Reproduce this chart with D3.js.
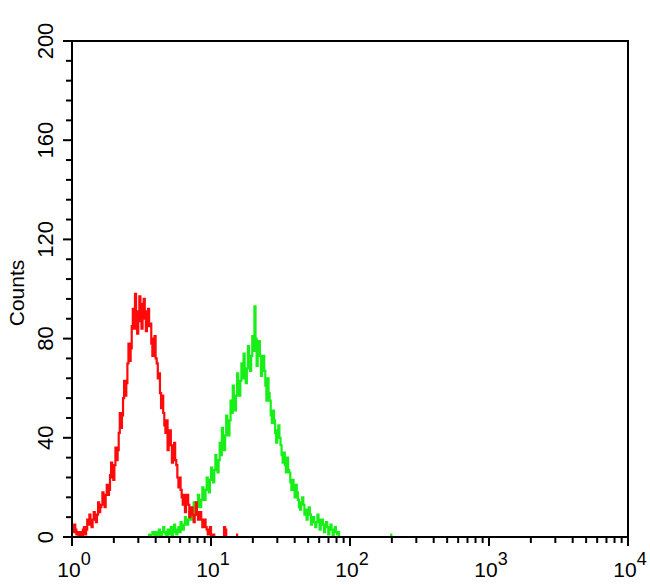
<!DOCTYPE html>
<html>
<head>
<meta charset="utf-8">
<script src="https://cdn.jsdelivr.net/npm/d3@7"></script>
<style>
  html, body { margin: 0; padding: 0; background: #fff; }
  svg { display: block; font-family: "Liberation Sans", Arial, sans-serif; }
</style>
</head>
<body>
<svg id="chart" width="650" height="585"></svg>
<script>
// ---- data (histogram counts per channel, 128 channels per decade) ----
const channelsPerDecade = 128;
const redStart = 0;
const redCounts = [4,2,5,3,1,2,0,0,2,0,3,4,1,3,7,5,9,6,4,7,10,7,6,9,14,10,12,13,18,14,12,17,21,17,19,25,30,24,23,29,36,31,35,42,50,44,49,56,63,57,62,70,78,71,76,85,92,84,98,88,82,91,97,87,84,94,96,88,83,91,92,85,86,78,73,80,81,72,70,64,66,58,52,57,50,45,42,47,35,41,43,37,30,35,38,31,29,24,20,24,19,16,13,17,10,14,17,13,8,11,12,9,6,9,14,10,7,9,10,7,4,6,7,4,3,1,2,4,0,0,1,0];
const redOutliers = [[140, 4], [141, 3], [152, 1]];
const greenStart = 70;
const greenCounts = [1,0,0,1,2,1,0,2,1,0,3,1,0,2,4,2,1,0,3,1,2,4,0,2,5,3,1,3,4,2,6,4,3,5,8,6,5,7,10,8,7,10,14,11,9,12,17,13,12,15,20,16,15,19,24,20,18,23,28,24,22,27,33,28,26,31,38,33,44,40,35,41,49,44,41,47,55,50,61,55,51,57,66,60,57,63,70,64,74,68,62,68,77,71,67,73,81,75,93,80,69,75,79,73,65,70,73,67,61,55,64,58,55,49,46,51,47,42,38,43,45,40,37,33,30,34,29,26,32,27,26,22,19,23,20,16,21,18,15,12,11,14,16,13,9,11,7,9,12,9,5,7,8,6,4,6,9,7,3,5,7,5,2,4,6,4,1,3,5,3,0,2,4,2,1,2,0,0];
const greenOutliers = [[294, 1]];
const yTicks = [0, 40, 80, 120, 160, 200];
const xTickExps = [0, 1, 2, 3, 4];
const yLabel = "Counts";

// ---- layout ----
const svg = d3.select("#chart");
const L = 72, R = 628, T = 41, B = 537;
const x = d3.scaleLog().domain([1, 10000]).range([L, R]);
const y = d3.scaleLinear().domain([0, 200]).range([B, T]);

function series(start, counts, outliers) {
  const m = new Map();
  counts.forEach((c, i) => m.set(start + i, c));
  outliers.forEach(([ch, c]) => m.set(ch, c));
  const chs = Array.from(m.keys());
  const lo = d3.min(chs), hi = d3.max(chs);
  return d3.range(lo, hi + 1).map(ch => [ch, m.get(ch) || 0]);
}
function stepPath(data) {
  const pts = [];
  data.forEach(([ch, c]) => {
    const x0 = x(Math.pow(10, ch / channelsPerDecade));
    const x1 = x(Math.pow(10, (ch + 1) / channelsPerDecade));
    pts.push([x0, y(c)], [x1, y(c)]);
  });
  return d3.line()(pts);
}

svg.append("path").attr("d", stepPath(series(greenStart, greenCounts, greenOutliers)))
  .attr("fill", "none").attr("stroke", "#18ee18").attr("stroke-width", 2.2);
svg.append("path").attr("d", stepPath(series(redStart, redCounts, redOutliers)))
  .attr("fill", "none").attr("stroke", "#ff0a0a").attr("stroke-width", 2.2);

// frame
svg.append("rect").attr("x", L).attr("y", T).attr("width", R - L).attr("height", B - T)
  .attr("fill", "none").attr("stroke", "#000").attr("stroke-width", 2);

// y ticks
const yMinor = d3.range(0, 201, 8);
svg.append("g").selectAll("line").data(yMinor).join("line")
  .attr("x1", L).attr("x2", d => L - (d % 40 === 0 ? 9 : 6))
  .attr("y1", d => y(d)).attr("y2", d => y(d))
  .attr("stroke", "#000").attr("stroke-width", 2);
svg.append("g").selectAll("text").data(yTicks).join("text")
  .attr("transform", d => `translate(53,${y(d)}) rotate(-90)`)
  .attr("text-anchor", "middle").attr("font-size", 22).attr("fill", "#000")
  .text(d => d);

// x ticks
const xMinor = [];
xTickExps.forEach(e => {
  if (e < 4) for (let k = 1; k <= 9; k++) xMinor.push({ v: k * Math.pow(10, e), major: k === 1 });
  else xMinor.push({ v: Math.pow(10, e), major: true });
});
svg.append("g").selectAll("line").data(xMinor).join("line")
  .attr("x1", d => x(d.v)).attr("x2", d => x(d.v))
  .attr("y1", B).attr("y2", d => B + (d.major ? 9 : 6))
  .attr("stroke", "#000").attr("stroke-width", 2);
const xl = svg.append("g").selectAll("text").data(xTickExps).join("text")
  .attr("x", d => x(Math.pow(10, d)) + 2).attr("y", 577)
  .attr("text-anchor", "middle").attr("font-size", 21).attr("fill", "#000");
xl.append("tspan").text("10");
xl.append("tspan").attr("dy", -12).attr("font-size", 18).text(d => d);

// y label
svg.append("text").attr("transform", `translate(24,293) rotate(-90)`)
  .attr("text-anchor", "middle").attr("font-size", 21).attr("fill", "#000")
  .text(yLabel);
</script>
</body>
</html>
